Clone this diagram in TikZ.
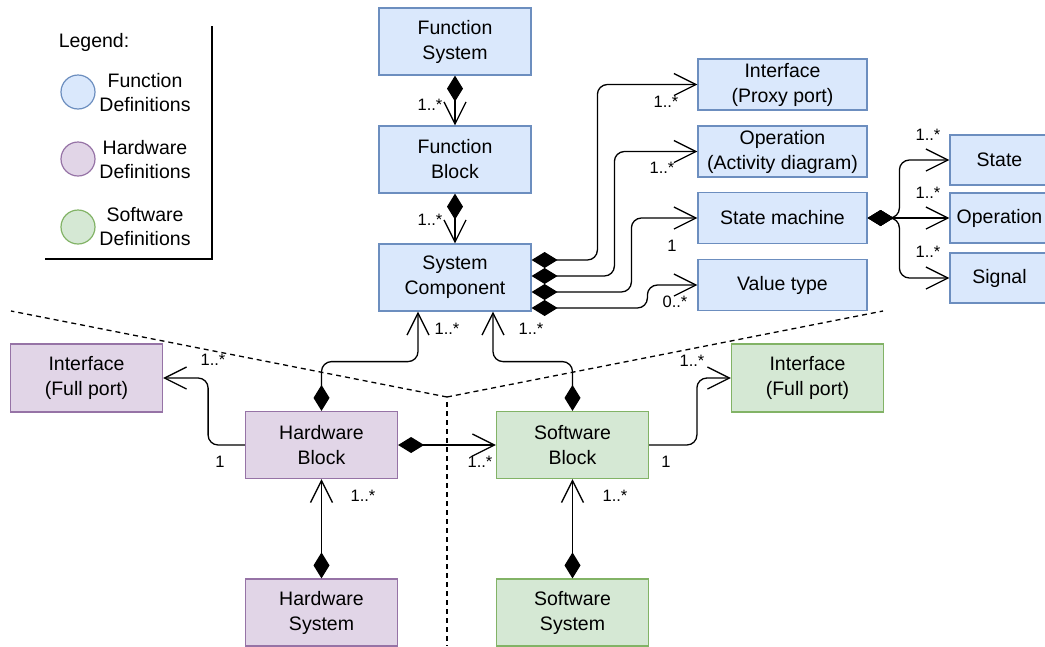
\documentclass[tikz,border=0pt]{standalone}
\usepackage{fontspec}
\setmainfont{Liberation Sans}
\usetikzlibrary{arrows.meta,calc}
\definecolor{funfill}{HTML}{DAE8FC}
\definecolor{funline}{HTML}{6C8EBF}
\definecolor{hwfill}{HTML}{E1D5E7}
\definecolor{hwline}{HTML}{9673A6}
\definecolor{swfill}{HTML}{D5E8D4}
\definecolor{swline}{HTML}{82B366}

\begin{document}
\begin{tikzpicture}[x=1pt,y=-1pt,
  box/.style={draw, line width=1.2pt, align=center, inner sep=0pt,
    minimum width=152pt, minimum height=67pt, font=\fontsize{19.5}{25}\selectfont},
  fun/.style={box, fill=funfill, draw=funline},
  hw/.style={box, fill=hwfill, draw=hwline},
  sw/.style={box, fill=swfill, draw=swline},
  wide/.style={minimum width=169pt, minimum height=51pt},
  narrow/.style={minimum width=99pt, minimum height=50pt},
  comp/.style={line width=1.3pt, rounded corners=10pt,
    {Diamond[length=26pt,width=16pt]}-{Straight Barb[length=22pt,width=22pt]}},
  assoc/.style={line width=1.3pt, rounded corners=10pt,
    -{Straight Barb[length=22pt,width=22pt]}},
  mult/.style={inner sep=0pt, font=\fontsize{16.5}{18}\selectfont},
  sep/.style={line width=1.3pt, dash pattern=on 5pt off 4pt},
  legtext/.style={align=center, inner sep=0pt, font=\fontsize{19.5}{24}\selectfont},
  legdot/.style={circle, line width=1.2pt, minimum size=34pt, inner sep=0pt},
]
\clip (0,0) rectangle (1045,646);

% domain separators
\coordinate (fork) at (447,397);
\coordinate (sepleft) at (11,311);
\coordinate (sepright) at (883,311);
\coordinate (sepdown) at (447,646);
\draw[sep] (fork) -- (sepleft);
\draw[sep] (fork) -- (sepright);
\draw[sep] ([yshift=-5pt]fork) -- (sepdown);

% legend
\draw[line width=1.1pt] (212,26) -- (212,259) -- (45,259);
\node[legtext] (legtitle) at (94,42) {Legend:};
\node[legdot, draw=funline, fill=funfill] (dotfun) at (78,92) {};
\node[legdot, draw=hwline, fill=hwfill] (dothw) at (78,159) {};
\node[legdot, draw=swline, fill=swfill] (dotsw) at (78,227) {};
\node[legtext] (legfun) at (145,93) {Function\\Definitions};
\node[legtext] (leghw) at (145,160) {Hardware\\Definitions};
\node[legtext] (legsw) at (145,227) {Software\\Definitions};

% function side
\node[fun] (fs) at (455,41.5) {Function\\System};
\node[fun] (fb) at (455,159.5) {Function\\Block};
\node[fun] (sc) at (455,277.5) {System\\Component};
\node[fun,wide] (ifp) at (782.5,84.5) {Interface\\(Proxy port)};
\node[fun,wide] (opa) at (782.5,151.5) {Operation\\(Activity diagram)};
\node[fun,wide] (sm) at (782.5,218) {State machine};
\node[fun,wide] (vt) at (782.5,285) {Value type};
\node[fun,narrow] (st) at (999.5,160) {State};
\node[fun,narrow] (op2) at (999.5,218) {Operation};
\node[fun,narrow] (sig) at (999.5,278) {Signal};

% hardware side
\node[hw,minimum height=68pt] (ifh) at (86.5,378) {Interface\\(Full port)};
\node[hw] (hb) at (321.5,445) {Hardware\\Block};
\node[hw] (hs) at (321.5,612.5) {Hardware\\System};

% software side
\node[sw,minimum height=68pt] (ifs) at (807.5,378) {Interface\\(Full port)};
\node[sw] (sb) at (572.5,445) {Software\\Block};
\node[sw] (ss) at (572.5,612.5) {Software\\System};

% compositions along the function chain
\draw[comp] (fs.south) -- (fb.north);
\draw[comp] (fb.south) -- (sc.north);
\node[mult] (mfb) at (430,105) {1..*};
\node[mult] (msc) at (430,220) {1..*};

% system component parts
\draw[comp] ([yshift=17.5pt]sc.east) -| ($(ifp.west)+(-100,0)$) -- (ifp.west);
\draw[comp] ([yshift=1.5pt]sc.east) -| ($(opa.west)+(-83,0)$) -- (opa.west);
\draw[comp] ([yshift=-14.5pt]sc.east) -| ($(sm.west)+(-66,0)$) -- (sm.west);
\draw[comp] ([yshift=-30.5pt]sc.east) -| ($(vt.west)+(-50,0)$) -- (vt.west);
\node[mult] (mifp) at (666,102) {1..*};
\node[mult] (mopa) at (662,168) {1..*};
\node[mult] (msm) at (672,246) {1};
\node[mult] (mvt) at (675,302) {0..*};

% state machine parts
\draw[comp] (sm.east) -| ($(st.west)+(-50,0)$) -- (st.west);
\draw[comp] (sm.east) -- (op2.west);
\draw[comp] (sm.east) -| ($(sig.west)+(-50,0)$) -- (sig.west);
\node[mult] (mst) at (928,135) {1..*};
\node[mult] (mop2) at (928,193) {1..*};
\node[mult] (msig) at (928,252) {1..*};

% blocks realising the system component
\draw[comp] (hb.north) |- ($(sc.south)+(-37,50)$) -- ($(sc.south)+(-37,0)$);
\draw[comp] (sb.north) |- ($(sc.south)+(38,50)$) -- ($(sc.south)+(38,0)$);
\node[mult] (mschw) at (447,329) {1..*};
\node[mult] (mscsw) at (531,329) {1..*};

% ports
\draw[assoc] (hb.west) -| ($(ifh.east)+(45,0)$) -- (ifh.east);
\draw[assoc] (sb.east) -| ($(ifs.west)+(-34,0)$) -- (ifs.west);
\node[mult] (mifh) at (213,360) {1..*};
\node[mult] (mhb1) at (220,462) {1};
\node[mult] (mifs) at (692,361) {1..*};
\node[mult] (msb1) at (666,462) {1};

% hardware block owns software blocks
\draw[comp] (hb.east) -- (sb.west);
\node[mult] (msb) at (480,462) {1..*};

% systems own their blocks
\draw[comp] (hs.north) -- (hb.south);
\draw[comp] (ss.north) -- (sb.south);
\node[mult] (mhb) at (363,496) {1..*};
\node[mult] (mssb) at (615,496) {1..*};
\end{tikzpicture}
\end{document}
